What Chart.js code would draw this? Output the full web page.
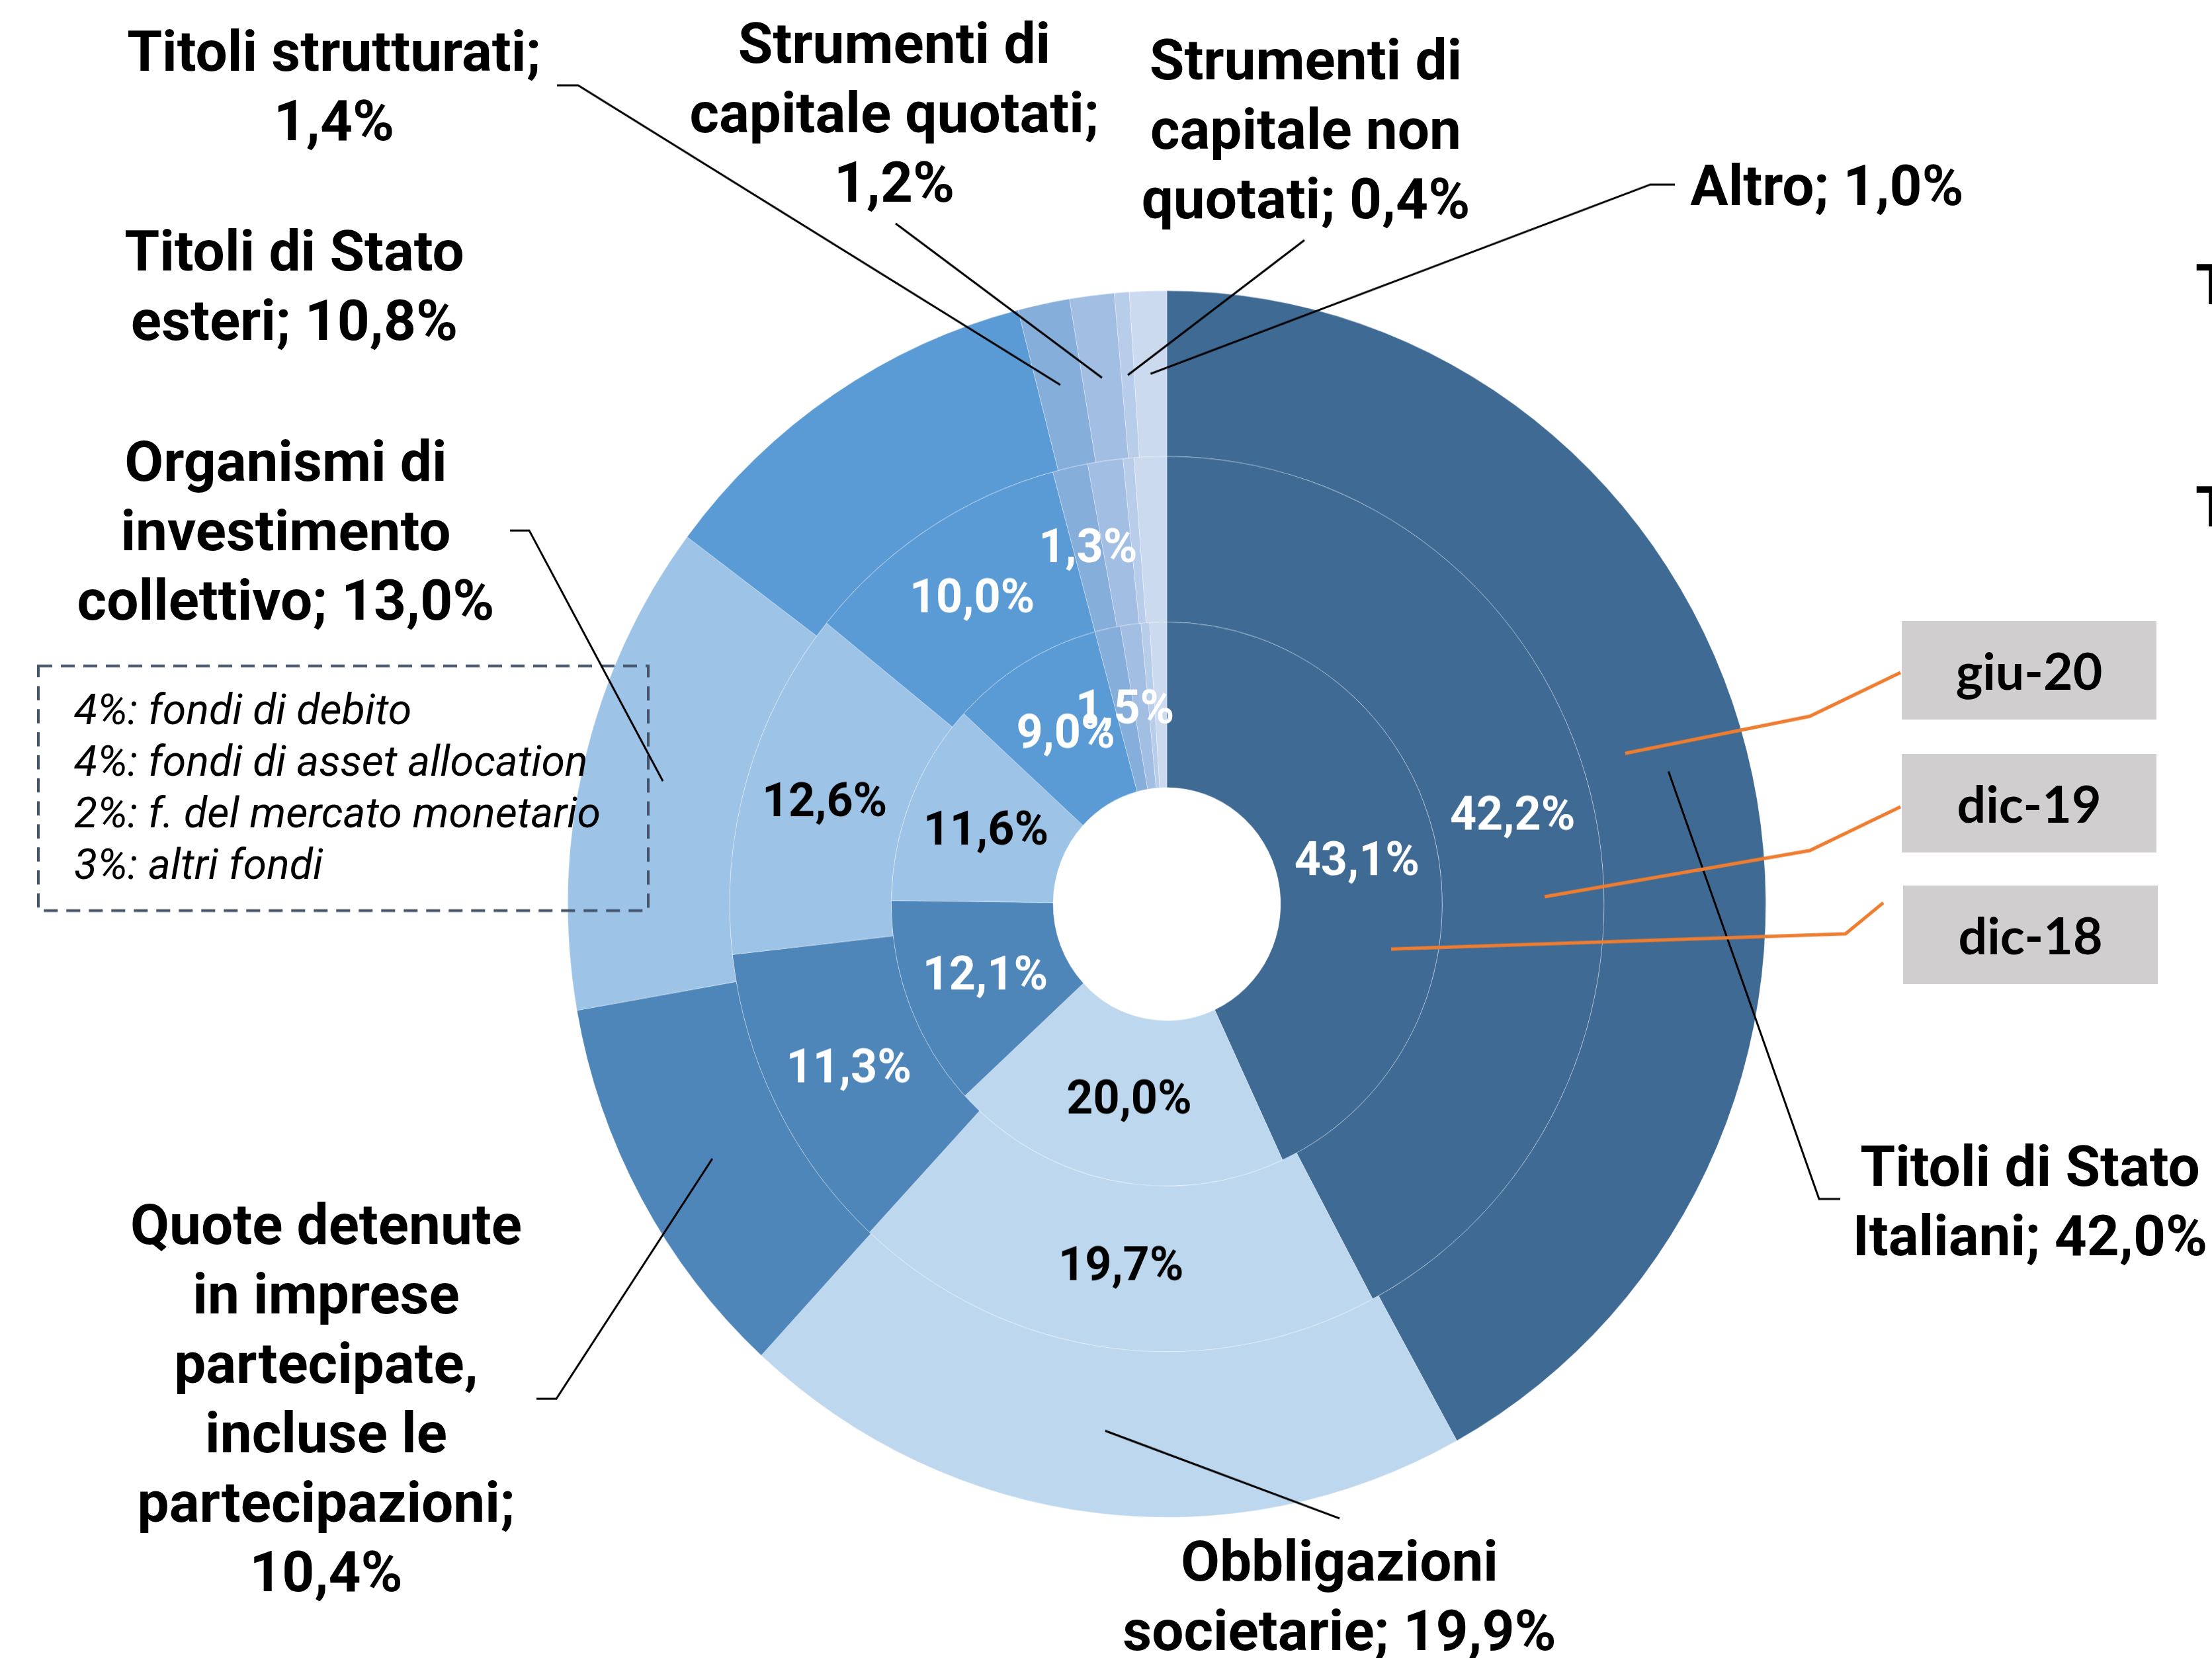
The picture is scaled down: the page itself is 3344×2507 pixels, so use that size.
<!DOCTYPE html>
<html>
<head>
<meta charset="utf-8">
<script src="https://cdn.jsdelivr.net/npm/chart.js@4.4.0/dist/chart.umd.min.js"></script>
<style>
  html, body { margin: 0; padding: 0; background: #fff; }
  body { width: 3344px; height: 2507px; position: relative; overflow: hidden; font-family: Roboto, sans-serif; }
  #wrap { position: absolute; left: 0; top: 0; width: 3344px; height: 2448px; transform: scaleY(1.0241); transform-origin: 0 0; }
  .lbl { position: absolute; font-weight: 700; font-size: 85.5px; line-height: 105px; text-align: center; white-space: nowrap; color: #000; transform: translateX(-50%); }
  .cut { position: absolute; font-weight: 700; font-size: 85.5px; line-height: 105px; white-space: nowrap; color: #000; }
  .period { position: absolute; width: 385px; height: 149px; background: #D0CECE; font-family: Lato, sans-serif; font-weight: 700; font-size: 77px; line-height: 149px; text-align: center; color: #000; }
  .note { position: absolute; left: 112px; top: 1034px; font-style: italic; font-weight: 400; font-size: 64.4px; line-height: 78px; white-space: nowrap; color: #000; }
</style>
</head>
<body>
<div id="wrap"><canvas id="chart" width="3344" height="2448"></canvas></div>
<script>
// categories clockwise from 12 o'clock
const categories = [
    'Titoli di Stato Italiani',
    'Obbligazioni societarie',
    'Quote detenute in imprese partecipate, incluse le partecipazioni',
    'Organismi di investimento collettivo',
    'Titoli di Stato esteri',
    'Titoli strutturati',
    'Strumenti di capitale quotati',
    'Strumenti di capitale non quotati',
    'Altro'
];
const periods = ['giu-20', 'dic-19', 'dic-18'];   // outer -> inner ring
const giu20 = [42.0, 19.9, 10.4, 13.0, 10.8, 1.4, 1.2, 0.4, 1.0];
const dic19 = [42.2, 19.7, 11.3, 12.6, 10.0, 1.3, 1.3, 0.4, 1.2];
const dic18 = [43.1, 20.0, 12.1, 11.6, 9.0, 1.5, 1.2, 0.5, 1.0];
const fundBreakdown = [
    '4%: fondi di debito',
    '4%: fondi di asset allocation',
    '2%: f. del mercato monetario',
    '3%: altri fondi'
];

const palette = ['#3E6A94', '#BDD7EE', '#4F86BA', '#9DC3E6', '#5B9BD5', '#86AEDB', '#A2BEE2', '#B8CDE9', '#CBDAEE'];
const darkText = [1, 3];      // light slices get black labels
const labelled = 6;           // the three tiny slices carry no inner label

// the reference is slightly taller than wide; canvas is stretched by CSS
const SY = 2507 / 2448;
const Y = v => v / SY;

// outer labels: centre x, first baseline, words per line, leader path (page coords)
const outerLayout = [
    { x: 3069, base: 1793, wrap: [3, 2], path: [[2750, 1813], [2782, 1813]] },
    { x: 2025, base: 2390, wrap: [1, 2], path: [[2025, 2296]] },
    { x: 493, base: 1881, wrap: [2, 2, 1, 2, 1, 1], path: [[841, 2115], [811, 2115]] },
    { x: 432, base: 727, wrap: [2, 1, 2], path: [[800, 802], [771, 802]] },
    { x: 445, base: 409, wrap: [3, 2], path: null },
    { x: 505, base: 107, wrap: [2, 1], path: [[874, 129], [842, 129]] },
    { x: 1352, base: 95, wrap: [2, 2, 1], path: [[1354, 338]] },
    { x: 1974, base: 120, wrap: [2, 2, 2], path: [[1972, 363]] },
    { x: 2762, base: 310, wrap: [2], path: [[2495, 279], [2532, 279]] }
];

const periodLayout = [
    { left: 2875, top: 939, line: [[2873, 1017], [2736, 1083], [2457, 1139]] },
    { left: 2875, top: 1140, line: [[2873, 1220], [2736, 1286], [2335, 1356]] },
    { left: 2877, top: 1339, line: [[2847, 1365], [2790, 1412], [2103, 1435]] }
];

function fmt(v) {
    return v.toFixed(1).replace('.', ',') + '%';
}

function wrapWords(text, counts) {
    const words = text.split(' ');
    const lines = [];
    let k = 0;
    counts.forEach(n => {
        lines.push(words.slice(k, k + n).join(' '));
        k += n;
    });
    return lines;
}

// html text
categories.forEach((name, i) => {
    const lay = outerLayout[i];
    const div = document.createElement('div');
    div.className = 'lbl';
    div.style.left = lay.x + 'px';
    div.style.top = (lay.base - 81) + 'px';
    div.innerHTML = wrapWords(`${name}; ${fmt(giu20[i])}`, lay.wrap).join('<br>');
    document.body.appendChild(div);
});

periods.forEach((p, i) => {
    const div = document.createElement('div');
    div.className = 'period';
    div.style.left = periodLayout[i].left + 'px';
    div.style.top = periodLayout[i].top + 'px';
    div.textContent = p;
    document.body.appendChild(div);
});

const note = document.createElement('div');
note.className = 'note';
note.innerHTML = fundBreakdown.join('<br>');
document.body.appendChild(note);

// labels of a neighbouring panel, cut by the right edge
[379, 715].forEach(top => {
    const div = document.createElement('div');
    div.className = 'cut';
    div.style.left = '3319px';
    div.style.top = top + 'px';
    div.textContent = 'Titoli';
    document.body.appendChild(div);
});

const overlay = {
    id: 'overlay',
    afterDatasetsDraw(chart) {
        const ctx = chart.ctx;
        ctx.save();

        // dashed box round the fund breakdown
        ctx.strokeStyle = '#44546A';
        ctx.lineWidth = 4;
        ctx.setLineDash([21, 13]);
        ctx.strokeRect(58, Y(1007), 922, Y(1377) - Y(1007));
        ctx.setLineDash([]);

        // leader lines from the outer ring
        const outer = chart.getDatasetMeta(0);
        ctx.strokeStyle = '#000';
        ctx.lineWidth = 3;
        outerLayout.forEach((lay, i) => {
            if (!lay.path) return;
            const p = outer.data[i].tooltipPosition();
            ctx.beginPath();
            ctx.moveTo(p.x, p.y);
            lay.path.forEach(([x, y]) => ctx.lineTo(x, Y(y)));
            ctx.stroke();
        });

        // period pointers
        ctx.strokeStyle = '#ED7D31';
        ctx.lineWidth = 5;
        periodLayout.forEach(pl => {
            ctx.beginPath();
            pl.line.forEach(([x, y], k) => k ? ctx.lineTo(x, Y(y)) : ctx.moveTo(x, Y(y)));
            ctx.stroke();
        });

        // inner ring values
        ctx.font = 'bold 70px Roboto';
        ctx.textAlign = 'center';
        ctx.textBaseline = 'middle';
        [1, 2].forEach(di => {
            const meta = chart.getDatasetMeta(di);
            const values = chart.data.datasets[di].data;
            meta.data.forEach((arc, i) => {
                if (i >= labelled) return;
                const p = arc.tooltipPosition();
                ctx.fillStyle = darkText.includes(i) ? '#000' : '#fff';
                ctx.fillText(fmt(values[i]), p.x, p.y + 3);
            });
        });
        ctx.restore();
    }
};

new Chart(document.getElementById('chart'), {
    type: 'doughnut',
    data: {
        labels: categories,
        datasets: [
            { label: periods[0], data: giu20, backgroundColor: palette },
            { label: periods[1], data: dic19, backgroundColor: palette },
            { label: periods[2], data: dic18, backgroundColor: palette }
        ]
    },
    options: {
        responsive: false,
        maintainAspectRatio: false,
        animation: false,
        cutout: 172,
        layout: {
            padding: { left: 858, right: 674, top: 428.8, bottom: 207.2 }
        },
        elements: {
            arc: {
                borderWidth: 1,
                borderColor: 'rgba(255, 255, 255, 0.35)',
                hoverOffset: 0
            }
        },
        plugins: {
            legend: { display: false },
            tooltip: { enabled: false }
        }
    },
    plugins: [overlay]
});
</script>
</body>
</html>
